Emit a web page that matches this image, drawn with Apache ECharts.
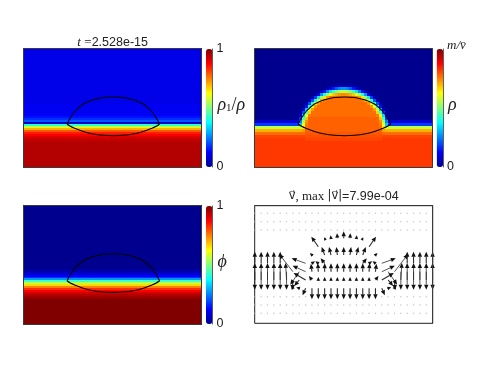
<!DOCTYPE html>
<html><head><meta charset="utf-8"><style>html,body{margin:0;background:#fff}#c{width:480px;height:373px;filter:blur(0.5px)}</style>
<script src="https://cdn.jsdelivr.net/npm/echarts@6/dist/echarts.min.js"></script></head><body><div id="c"></div>
<script>
// ---------- values (percent of the colour scale) ----------
const jet = ['#00008f','#0000ff','#0080ff','#00ffff','#80ff80','#ffff00','#ff8000','#ff0000','#800000'];
// rho1/rho: one value per horizontal band, top to bottom
const rho1Profile = [10,10,10,10,10,10,10,10,10,10,10,10,10,10,10,10,10,10,10,10,10,10,10,10,10,10,10,10,
  11,11,11,11,11,12,14,17,21,6,42,58,70,79,85,88,91,93,94,95,95,95,95,95,95,95,95,95,95,95,95,95];
// phi: one value per horizontal band, top to bottom
const phiProfile = [0,0,0,0,0,0,0,0,0,0,0,0,0,0,0,0,0,0,0,0,0,0,0,0,0,0,0,0,0,0,0,0,2,4,8,12,17,27,44,56,66,75,83,88,92,95,97,99,
  100,100,100,100,100,100,100,100,100,100,100,100];
// rho: left half of the panel; each row = [value of the outer cells, values of the cells next to the centre]
const rhoRows = [
 [0,[]],[0,[]],[0,[]],[0,[]],[0,[]],[0,[]],[0,[]],[0,[]],[0,[]],[0,[]],[0,[]],[0,[]],
 [0,[1,2,3,3]],
 [0,[4,9,15,21,25,27]],
 [0,[5,14,25,35,43,49,54,56]],
 [0,[2,11,27,41,53,63,68,71,73,74]],
 [0,[4,18,36,52,65,72,76,77,77,77,77]],
 [0,[4,20,40,59,70,76,77,77,77,77,77,77]],
 [0,[3,20,42,63,73,77,77,77,77,77,77,77,77]],
 [0,[14,39,61,73,77,77,77,77,77,77,77,77,77]],
 [0,[7,31,56,72,77,77,77,77,77,77,77,77,77,77]],
 [0,[2,20,46,67,77,77,77,77,77,77,77,77,77,77,77]],
 [0,[7,34,60,75,77,77,77,77,77,77,77,77,77,77,77]],
 [0,[17,45,68,78,78,78,78,78,78,78,78,78,78,78,78]],
 [8,[25,54,73,78,78,78,78,78,78,78,78,78,78,78,78]],
 [18,[32,62,76,78,78,78,78,78,78,78,78,78,78,78,78]],
 [56,[65,77,78,78,78,78,78,78,78,78,78,78,78,78]],
 [70,[72,78,78,78,78,78,78,78,78,78,78,78,78,78]],
 [77,[79,79,79,79,79,79,79,79,79,79,79,79,79]],
 [81,[80,80,80,80,80,80,80,80,80,80,80,80,80]],
 [82,[81,81,81,81,81,81,81,81,81,81,81,81,81]],
 [82,[]],[82,[]],[82,[]],[82,[]],[82,[]],[82,[]],[82,[]],[82,[]],[82,[]]
];
const halfCols = 30;
// droplet outline, panel units
const lensX = [43.5,46.8,51.8,59.8,69.8,79.8,89.8,99.8,109.8,119.8,127.8,132.8,136.1];
const lensTop = [43.3,49.3,56.3,63.3,67.5,69.8,70.3,69.8,67.5,63.3,56.3,49.3,43.3];
const lensBottom = [43.3,41,38.8,35.8,33.3,32,31.6,32,33.3,35.8,38.8,41,43.3];
// velocity arrows of the left half and centre column: [column, height, u, v]
const quiverLeft = [
 [-14,60,0,11.5],[-14,51.6,0,-18],[-14,43.3,0,17],
 [-13,60,0,11.5],[-13,51.6,0,-18],[-13,43.3,0,17],
 [-12,60,0,11.5],[-12,51.6,0,-18],[-12,43.3,0,17],
 [-11,60,0,11.5],[-11,51.6,0,-18],[-11,43.3,0,17],
 [-10,60,0,11.5],[-10,51.6,0,-18],[-10,43.3,0,17],
 [-9,51.6,0,-18],[-9,43.3,-1,17],
 [-8,43.3,-0.5,-10],[-8,35,-1,3],[-8,51.6,-13.7,17.7],
 [-7,51.6,-9,-13],[-7,43.3,-5,-6],[-7,35,-3,1],
 [-6,60,-14,5],[-6,51.6,-13,6],[-6,43.3,-12,7],[-6,35,-3,-7],
 [-5,68.3,-2,2],[-5,60,3,2],[-5,51.6,-1,8],[-5,43.3,-3,4],[-5,35,0,-11],
 [-4,76.6,-7,10],[-4,60,-3,2],[-4,51.6,-0.5,8.5],[-4,43.3,0,3],[-4,35,0,-11],
 [-3,68.3,-3,8],[-3,60,-4,5],[-3,51.6,0,8.5],[-3,43.3,0,3],[-3,35,0,-11],[-3,85,-0.5,1],
 [-2,85,-0.5,3],[-2,68.3,-2,8],[-2,51.6,0,8.5],[-2,43.3,0,3],[-2,35,0,-11],
 [-1,85,-0.3,5],[-1,68.3,-1,8],[-1,51.6,0,8.5],[-1,43.3,0,3],[-1,35,0,-11],
 [0,85,0,7],[0,68.3,0,8],[0,51.6,0,8.5],[0,43.3,0,3],[0,35,0,-11]
];
const dotRows = [110,101.6,93.3,26.6,18.3,10];
const dotCols = [-14,-13,-12,-11,-10,-9,-8,-7,-6,-5,-4,-3,-2,-1,0,1,2,3,4,5,6,7,8,9,10,11,12,13,14];
const colorbarTicks = [0,1];
// ---------- layout ----------
const colStep = 6.35;
const panels = [
 {left:23.5,top:48.7,w:178.2,h:118.6},{left:254.7,top:48.7,w:177.6,h:118.6},
 {left:23.5,top:205.3,w:178.2,h:118.7},{left:254.7,top:205.7,w:178,h:117.6}];
const bars = [{left:206,top:49,h:118},{left:436.7,top:49,h:118},{left:206,top:206,h:118}];
const edge = '#3a3a3a', serif = '"Liberation Serif","DejaVu Serif",serif', dejavu = '"DejaVu Sans",sans-serif', sans = '"Liberation Sans",Arial,sans-serif';

const grid = [], xAxis = [], yAxis = [], series = [];
panels.forEach((p,i) => grid.push({left:p.left,top:p.top,width:p.w,height:p.h,show:i===3,borderColor:'#222',borderWidth:1,backgroundColor:'#fff'}));
bars.forEach(b => grid.push({left:b.left,top:b.top,width:6.4,height:b.h,show:false}));

function frameAxes(i, h, topName, gap, xmin, xmax){
  const ix = xAxis.length, iy = yAxis.length;
  xAxis.push({type:'value',gridIndex:i,position:'top',min:xmin,max:xmax,z:6,axisTick:{show:false},axisLabel:{show:false},splitLine:{show:false},
    axisLine:{show:true,onZero:false,lineStyle:{color:edge,width:1}},
    name:topName||'',nameLocation:'middle',nameGap:gap,nameMoveOverlap:false,nameTextStyle:{fontSize:12.5,color:'#222',fontFamily:sans,
      rich:{m:{fontFamily:serif,fontStyle:'italic',fontSize:13,color:'#222'},d:{fontFamily:dejavu,fontSize:11.5,color:'#222'},r:{fontFamily:serif,fontSize:13,color:'#222'},s:{fontFamily:sans,fontSize:12.5,color:'#222'}}}});
  yAxis.push({type:'value',gridIndex:i,position:'right',min:0,max:h,z:6,axisTick:{show:false},axisLabel:{show:false},splitLine:{show:false},
    axisLine:{show:true,onZero:false,lineStyle:{color:edge,width:1}}});
  return [ix,iy];
}
function catAxes(i, cols, rows){
  const ix = xAxis.length, iy = yAxis.length;
  xAxis.push({type:'category',gridIndex:i,data:cols,position:'bottom',z:6,axisTick:{show:false},axisLabel:{show:false},splitLine:{show:false},
    axisLine:{show:true,onZero:false,lineStyle:{color:edge,width:1}}});
  yAxis.push({type:'category',gridIndex:i,data:rows,inverse:true,position:'left',z:6,axisTick:{show:false},axisLabel:{show:false},splitLine:{show:false},
    axisLine:{show:true,onZero:false,lineStyle:{color:edge,width:1}}});
  return [ix,iy];
}
function cellItem(params,api){
  const p=api.coord([api.value(0),api.value(1)]),s=api.size([1,1]);
  const x0=Math.round(p[0]-s[0]/2),x1=Math.round(p[0]+s[0]/2),y0=Math.round(p[1]-s[1]/2),y1=Math.round(p[1]+s[1]/2);
  return {type:'rect',shape:{x:x0,y:y0,width:x1-x0,height:y1-y0},style:{fill:api.visual('color')}};
}
function heat(i, cols, rows, data, topName){
  const c = catAxes(i, cols, rows);
  series.push({type:'custom',coordinateSystem:'cartesian2d',xAxisIndex:c[0],yAxisIndex:c[1],data,encode:{x:0,y:1},renderItem:cellItem,z:2,silent:true,progressive:0});
  const heatIndex = series.length-1;
  const f = frameAxes(i, panels[i].h, topName, 0, 0, panels[i].w);
  [lensTop,lensBottom].forEach(arc => series.push({type:'line',xAxisIndex:f[0],yAxisIndex:f[1],z:4,smooth:0.35,showSymbol:false,silent:true,
    data:lensX.map((x,k)=>[x,arc[k]]),lineStyle:{color:'#000',width:1.1}}));
  return heatIndex;
}
const idx = a => Array.from(a,(_,k)=>String(k));
const h0 = heat(0,['all'],idx(rho1Profile),rho1Profile.map((v,k)=>[0,k,v]),'{m|t} {r|=}{s|2.528e-15}');
const rhoData = [];
rhoRows.forEach((r,j)=>{
  const left = [];
  for(let c=0;c<halfCols;c++){ const t = c-(halfCols-r[1].length); left.push(t>=0? r[1][t]:r[0]); }
  left.concat(left.slice().reverse()).forEach((v,c)=>rhoData.push([c,j,v]));
});
const h1 = heat(1,idx(new Array(halfCols*2)),idx(rhoRows),rhoData,'');
const h2 = heat(2,['all'],idx(phiProfile),phiProfile.map((v,k)=>[0,k,v]),'');

// quiver panel
const q = frameAxes(3, panels[3].h, '{d|v⃗}{r|, max }{d||v⃗|}{s|=7.99e-04}', 3, -panels[3].w/2, panels[3].w/2);
const dots = [];
dotRows.forEach(h=>dotCols.forEach(k=>dots.push([k*colStep,h])));
series.push({type:'scatter',xAxisIndex:q[0],yAxisIndex:q[1],data:dots,symbolSize:1.4,silent:true,itemStyle:{color:'#b5b5b5'},z:3});
const quiver = [];
quiverLeft.forEach(a=>{
  quiver.push([a[0]*colStep,a[1],a[2],a[3]]);
  if(a[0]!==0) quiver.push([-a[0]*colStep,a[1],-a[2],a[3]]);
});
series.push({type:'custom',xAxisIndex:q[0],yAxisIndex:q[1],data:quiver,z:4,silent:true,clip:false,encode:{x:0,y:1},
  renderItem(params,api){
    const x=api.value(0),y=api.value(1),u=api.value(2),v=api.value(3);
    const a=api.coord([x,y]),b=api.coord([x+u,y+v]);
    const dx=b[0]-a[0],dy=b[1]-a[1],len=Math.hypot(dx,dy)||1,ux=dx/len,uy=dy/len;
    const hl=Math.min(5,2.6+len*0.35),hw=Math.min(2.2,1.3+len*0.15);
    const bx=b[0]-ux*hl,by=b[1]-uy*hl;
    return {type:'group',children:[
      {type:'line',shape:{x1:a[0],y1:a[1],x2:bx,y2:by},style:{stroke:'#2a2a2a',lineWidth:len>14?0.8:1.1}},
      {type:'polygon',shape:{points:[[b[0],b[1]],[bx-uy*hw,by+ux*hw],[bx+uy*hw,by-ux*hw]]},style:{fill:'#111'}}
    ]};
  }});

// colour bars: the library's own continuous visual map, with a tick axis on top
const names = [
 {text:'{a|ρ}{b|1}{c|/}{a|ρ}'},
 {text:'{a|ρ}'},
 {text:'{a|ϕ}'}];
bars.forEach((b,i)=>{
  const gi = 4+i;
  xAxis.push({type:'value',gridIndex:gi,show:false,min:0,max:1});
  yAxis.push({type:'value',gridIndex:gi,position:'right',min:colorbarTicks[0],max:colorbarTicks[1],interval:1,z:6,
    axisTick:{show:false},splitLine:{show:false},axisLine:{show:true,onZero:false,lineStyle:{color:edge,width:0.8}},
    axisLabel:{margin:4,fontFamily:sans,fontSize:12.5,color:'#1a1a1a',
      formatter:val=> (i===1&&val===1)?'{m|m/v̄}':String(val),
      rich:{m:{fontFamily:serif,fontStyle:'italic',fontSize:13,color:'#222',padding:[0,0,6,0]}}},
    name:names[i].text,nameLocation:'middle',nameRotate:0,nameGap:5,nameMoveOverlap:false,
    nameTextStyle:{align:'left',padding:[0,0,6,0],rich:{a:{fontFamily:serif,fontStyle:'italic',fontSize:18,color:'#222'},b:{fontFamily:serif,fontSize:11,color:'#222',padding:[6,0,0,0]},c:{fontFamily:serif,fontSize:18,color:'#222'}}}});
  series.push({type:'scatter',xAxisIndex:xAxis.length-1,yAxisIndex:yAxis.length-1,data:[],silent:true});
});
const visualMap = [h0,h1,h2].map((s,i)=>({type:'continuous',seriesIndex:s,dimension:2,min:0,max:100,calculable:false,realtime:false,hoverLink:false,
  left:bars[i].left,top:bars[i].top,itemWidth:6.4,itemHeight:bars[i].h,padding:0,text:null,showLabel:false,inRange:{color:jet},z:1}));

echarts.init(document.getElementById('c'),null,{renderer:'canvas'}).setOption({
  animation:false,backgroundColor:'#fff',tooltip:{show:false},grid,xAxis,yAxis,visualMap,series});
</script></body></html>
